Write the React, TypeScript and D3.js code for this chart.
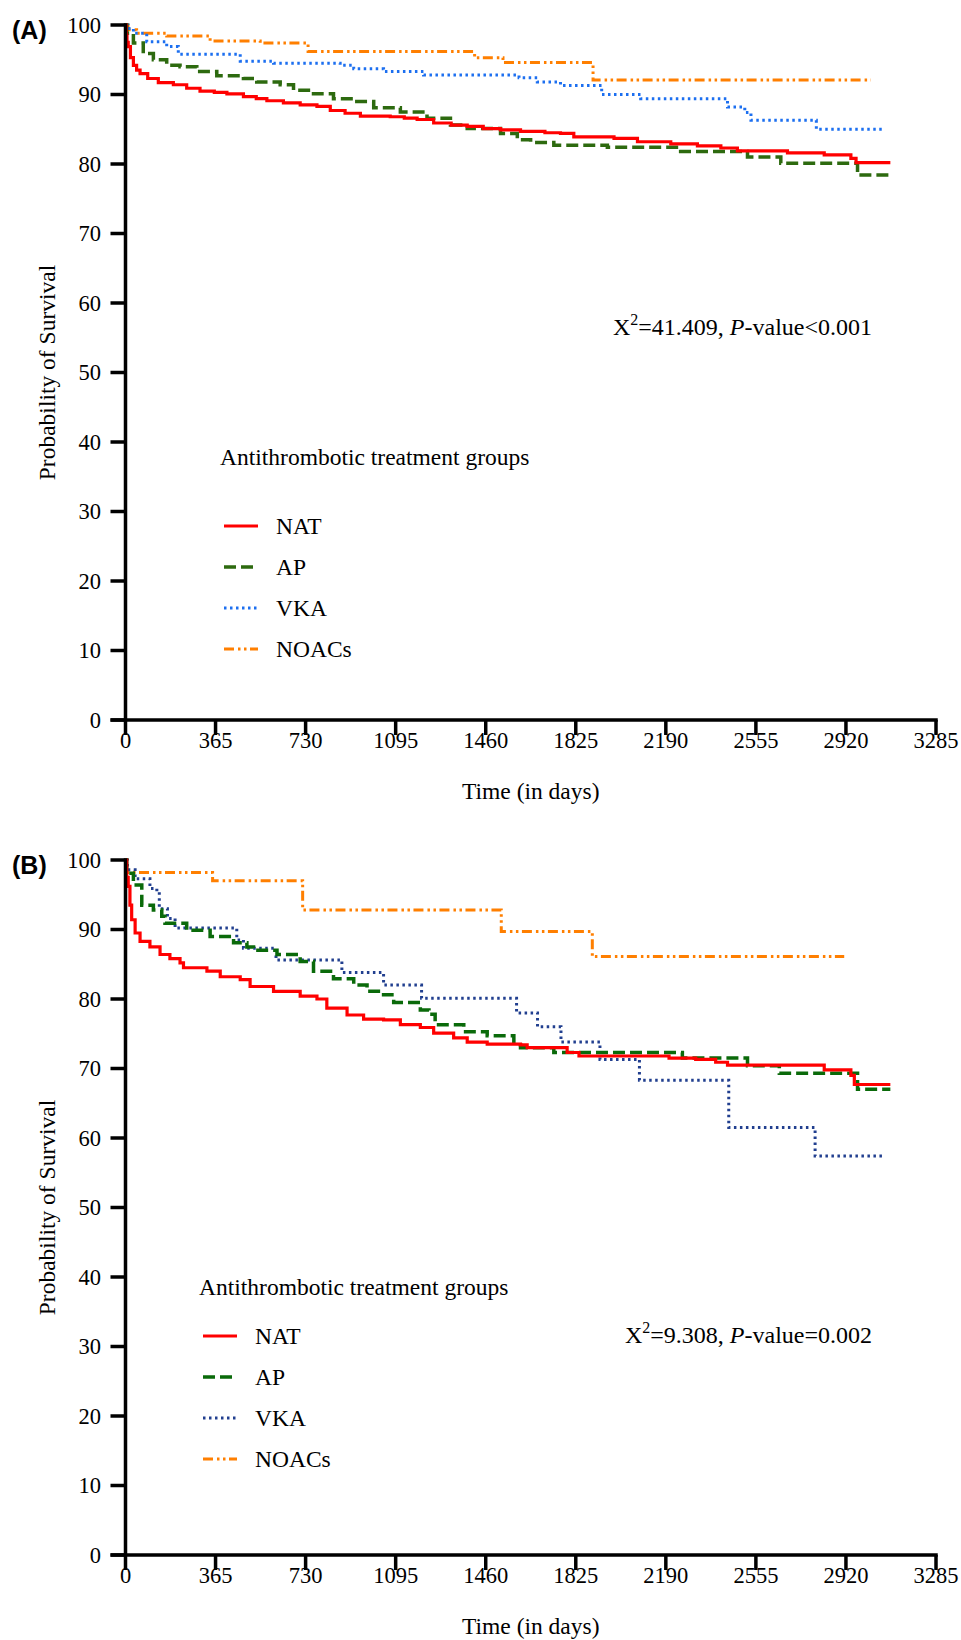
import React from 'react'
import * as d3 from 'd3'

// Kaplan-Meier curves: [day, survival %]
const timeTicks = [0, 365, 730, 1095, 1460, 1825, 2190, 2555, 2920, 3285]
const survivalTicks = [0, 10, 20, 30, 40, 50, 60, 70, 80, 90, 100]
const groupNames = ['NAT', 'AP', 'VKA', 'NOACs']

const natA = [[0, 100], [3, 98.5], [6, 97.5], [11, 96.9], [20, 95.3], [32, 94.2], [45, 93.5], [59, 93.0], [90, 92.3], [133, 91.7], [194, 91.4], [248, 90.9], [302, 90.5], [360, 90.3], [411, 90.1], [478, 89.7], [530, 89.4], [573, 89.1], [640, 88.8], [708, 88.5], [776, 88.3], [830, 87.7], [890, 87.3], [952, 86.9], [1073, 86.8], [1130, 86.6], [1182, 86.4], [1249, 85.9], [1320, 85.6], [1385, 85.4], [1450, 85.1], [1520, 84.9], [1601, 84.7], [1700, 84.5], [1763, 84.4], [1817, 83.9], [1980, 83.7], [2075, 83.2], [2210, 82.9], [2318, 82.6], [2413, 82.3], [2480, 81.9], [2683, 81.6], [2832, 81.3], [2940, 80.8], [2961, 80.2], [3100, 80.2]]
const apA = [[0, 100], [5, 98.8], [32, 97.4], [72, 95.9], [113, 95.0], [167, 94.2], [221, 94.0], [289, 93.3], [370, 92.7], [478, 92.3], [532, 91.8], [627, 91.4], [681, 90.6], [762, 90.1], [843, 89.4], [925, 89.0], [1006, 88.1], [1114, 87.5], [1222, 86.6], [1317, 85.6], [1385, 85.1], [1520, 84.4], [1588, 83.5], [1642, 83.1], [1736, 82.7], [1953, 82.4], [2250, 81.8], [2521, 81.0], [2656, 80.1], [2967, 78.4], [3100, 78.4]]
const vkaA = [[0, 100], [10, 99.5], [32, 98.8], [86, 97.6], [167, 96.9], [214, 95.8], [465, 94.8], [600, 94.5], [870, 94.2], [925, 93.7], [1046, 93.3], [1208, 92.8], [1595, 92.4], [1669, 91.8], [1763, 91.3], [1930, 90.0], [2088, 89.4], [2440, 88.2], [2510, 87.4], [2535, 86.3], [2800, 85.0], [3076, 85.0]]
const noacA = [[0, 100], [10, 99.3], [45, 98.8], [167, 98.4], [343, 97.7], [546, 97.4], [740, 96.2], [1415, 95.3], [1530, 94.6], [1895, 92.1], [3021, 92.1]]

const natB = [[0, 100], [5, 97.5], [11, 96.2], [18, 93.5], [25, 91.4], [39, 89.5], [59, 88.3], [99, 87.5], [140, 86.4], [180, 85.8], [221, 85.2], [235, 84.5], [330, 84.0], [384, 83.2], [465, 82.8], [505, 81.8], [600, 81.1], [708, 80.4], [776, 80.0], [816, 78.7], [898, 77.7], [965, 77.1], [1046, 77.0], [1114, 76.3], [1195, 75.9], [1249, 75.1], [1330, 74.4], [1385, 73.8], [1466, 73.5], [1601, 73.4], [1628, 73.0], [1790, 72.3], [1838, 71.8], [2203, 71.5], [2311, 71.3], [2392, 70.9], [2440, 70.5], [2832, 69.8], [2940, 69.0], [2954, 67.7], [3100, 67.7]]
const apB = [[0, 100], [5, 98.1], [32, 96.4], [66, 93.5], [113, 92.8], [147, 91.9], [160, 90.9], [248, 89.9], [343, 89.0], [438, 88.1], [492, 87.5], [519, 87.0], [614, 86.4], [708, 85.4], [762, 84.0], [843, 82.9], [925, 82.0], [979, 81.1], [1046, 80.6], [1087, 79.5], [1195, 78.4], [1230, 77.8], [1255, 76.3], [1371, 75.3], [1466, 74.7], [1574, 73.4], [1601, 73.0], [1736, 72.3], [2257, 71.5], [2521, 70.4], [2650, 69.3], [2967, 67.0], [3100, 67.0]]
const vkaB = [[0, 100], [8, 98.6], [39, 97.3], [99, 95.9], [127, 95.4], [137, 93.0], [170, 91.6], [201, 90.2], [451, 88.5], [478, 87.3], [610, 85.6], [877, 83.8], [1046, 82.0], [1200, 80.1], [1585, 78.0], [1670, 76.0], [1765, 73.8], [1923, 71.3], [2083, 68.3], [2445, 61.5], [2795, 57.4], [3076, 57.4]]
const noacB = [[0, 100], [3, 98.2], [353, 97.0], [718, 92.8], [1523, 89.7], [1892, 86.1], [2913, 86.1]]

const serif = "'Liberation Serif', 'Times New Roman', serif"

const Panel = ({ top, tag, series, colors, legend, stat }) => {
  const x = d3.scaleLinear().domain([0, 3285]).range([125.5, 936])
  const y = d3.scaleLinear().domain([0, 100]).range([top + 695, top])
  const line = d3.line().x((d) => x(d[0])).y((d) => y(d[1])).curve(d3.curveStepAfter)

  const dashes = [null, '12 5', '2.5 3.5', '10 4 2.5 3.5 2.5 3.5']
  const widths = [3.2, 3.5, 3, 3]

  return (
    <g>
      <text x={12} y={top + 14} fontFamily="'Liberation Sans', Arial, sans-serif" fontWeight="bold" fontSize={25}>{tag}</text>

      {/* curves, drawn back to front */}
      {[3, 2, 1, 0].map((i) => (
        <path key={i} d={line(series[i])} fill="none" stroke={colors[i]} strokeWidth={widths[i]}
          strokeDasharray={dashes[i] || undefined} />
      ))}

      {/* y axis */}
      <line x1={x(0)} x2={x(0)} y1={y(100) - 1.75} y2={y(0)} stroke="#000" strokeWidth={3.5} />
      {survivalTicks.map((v) => (
        <g key={v}>
          <line x1={x(0) - 15} x2={x(0)} y1={y(v)} y2={y(v)} stroke="#000" strokeWidth={3.5} />
          <text x={101} y={y(v)} dy="0.35em" textAnchor="end" fontFamily={serif} fontSize={22.5}>{v}</text>
        </g>
      ))}
      <text transform={`translate(47,${y(50)}) rotate(-90)`} textAnchor="middle" dominantBaseline="central"
        fontFamily={serif} fontSize={23.5}>Probability of Survival</text>

      {/* x axis */}
      <line x1={x(0) - 15} x2={x(3285) + 1.75} y1={y(0)} y2={y(0)} stroke="#000" strokeWidth={3.5} />
      {timeTicks.map((t) => (
        <g key={t}>
          <line x1={x(t)} x2={x(t)} y1={y(0)} y2={y(0) + 15} stroke="#000" strokeWidth={3.5} />
          <text x={x(t)} y={y(0) + 28} textAnchor="middle" fontFamily={serif} fontSize={22.5}>{t}</text>
        </g>
      ))}
      <text x={(x(0) + x(3285)) / 2} y={y(0) + 79} textAnchor="middle" fontFamily={serif} fontSize={23.5}>Time (in days)</text>

      {/* test statistic */}
      <text x={872} y={stat.y} textAnchor="end" fontFamily={serif} fontSize={24}>
        X<tspan dy={-10} fontSize={16}>2</tspan><tspan dy={10}>={stat.chi}, </tspan>
        <tspan fontStyle="italic">P</tspan>-value{stat.p}
      </text>

      {/* legend */}
      <text x={legend.x} y={legend.titleY} fontFamily={serif} fontSize={23.5}>Antithrombotic treatment groups</text>
      {groupNames.map((name, i) => {
        const ly = legend.firstY + i * 41
        return (
          <g key={name}>
            <line x1={legend.x + 4} x2={legend.x + 38} y1={ly} y2={ly} stroke={colors[i]} strokeWidth={widths[i]}
              strokeDasharray={dashes[i] || undefined} />
            <text x={legend.x + 56} y={ly + 8} fontFamily={serif} fontSize={23.5}>{name}</text>
          </g>
        )
      })}
    </g>
  )
}

export default function App() {
  return (
    <svg width={961} height={1640} viewBox="0 0 961 1640"
      style={{ position: 'absolute', left: 0, top: 0, display: 'block', background: '#fff' }}>
      <Panel top={25} tag="(A)" series={[natA, apA, vkaA, noacA]}
        colors={['#ff0000', '#2d6a0f', '#1c6ff0', '#ff7f00']}
        legend={{ x: 220, titleY: 465, firstY: 526 }}
        stat={{ y: 335, chi: '41.409', p: '<0.001' }} />
      <Panel top={860} tag="(B)" series={[natB, apB, vkaB, noacB]}
        colors={['#ff0000', '#0a6a0a', '#213f8f', '#ff7f00']}
        legend={{ x: 199, titleY: 1295, firstY: 1336 }}
        stat={{ y: 1343, chi: '9.308', p: '=0.002' }} />
    </svg>
  )
}
